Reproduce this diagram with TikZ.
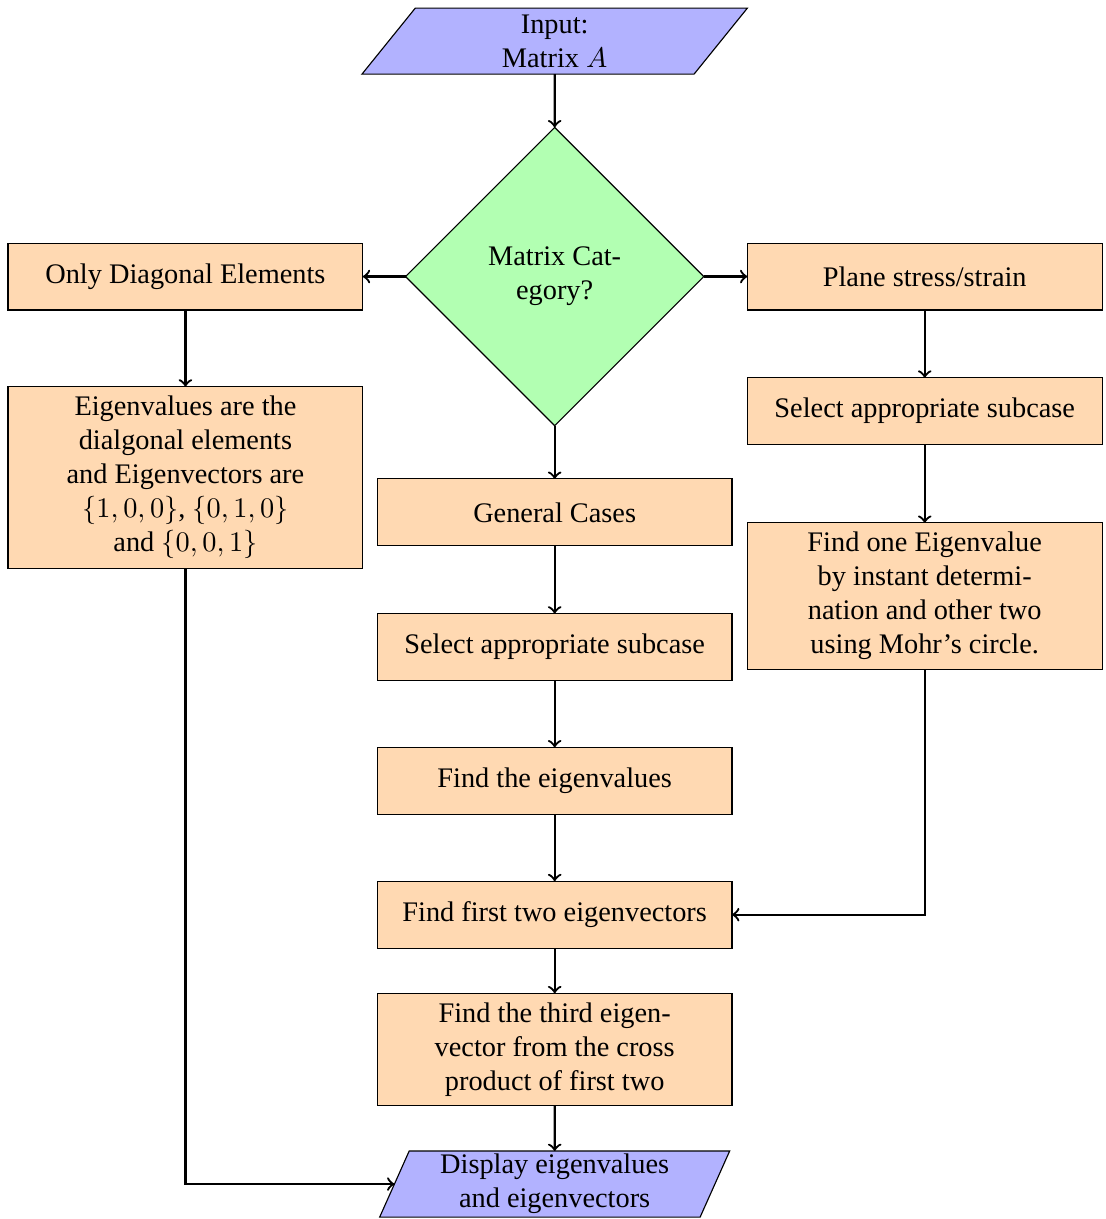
\documentclass[tikz,border=0pt]{standalone}
\usepackage[no-math]{fontspec}
\setmainfont{Liberation Serif}
\usetikzlibrary{shapes.geometric,positioning}

\begin{document}
\begin{tikzpicture}[->,thick,
      process/.style={rectangle,draw,thin,outer sep=0pt,fill=orange!30,minimum width=4.4cm,minimum height=0.83cm,align=center},
      io/.style={trapezium,trapezium left angle=70,trapezium right angle=110,trapezium stretches=true,draw,thin,outer sep=0pt,fill=blue!30,minimum height=0.82cm,align=center,inner sep=1pt},
      decision/.style={diamond,draw,thin,outer sep=0pt,fill=green!30,minimum width=3.7cm,minimum height=3.7cm,align=center}]
      \useasboundingbox (-6.88,0.51) rectangle (6.83,-14.61);
      \node[io,minimum width=4.79cm] (in) {Input:\\Matrix $A$};
      \node[decision] (cat) [below=0.66cm of in] {Matrix Cat-\\egory?};
      \node[process] (diag) [left=0.53cm of cat] {Only Diagonal Elements};
      \node[process] (plane) [right=0.54cm of cat] {Plane stress/strain};
      \node[process,minimum height=2.26cm] (eig) [below=0.95cm of diag] {Eigenvalues are the\\dialgonal elements\\and Eigenvectors are\\$\{1,0,0\}$, $\{0,1,0\}$\\and $\{0,0,1\}$};
      \node[process] (sub1) [below=0.84cm of plane] {Select appropriate subcase};
      \node[process,minimum height=1.82cm] (mohr) [below=0.97cm of sub1] {Find one Eigenvalue\\by instant determi-\\nation and other two\\using Mohr's circle.};
      \node[process] (gen) [below=0.66cm of cat] {General Cases};
      \node[process] (sub2) [below=0.84cm of gen] {Select appropriate subcase};
      \node[process] (eigval) [below=0.83cm of sub2] {Find the eigenvalues};
      \node[process] (two) [below=0.83cm of eigval] {Find first two eigenvectors};
      \node[process,minimum height=1.39cm] (third) [below=0.56cm of two] {Find the third eigen-\\vector from the cross\\product of first two};
      \node[io,minimum width=4.36cm] (out) [below=0.56cm of third] {Display eigenvalues\\and eigenvectors};

      \path[->]
        (in) edge (cat)
        (cat) edge (diag)
        (cat) edge (plane)
        (cat) edge (gen)
        (diag) edge (eig)
        (plane) edge (sub1)
        (sub1) edge (mohr)
        (gen) edge (sub2)
        (sub2) edge (eigval)
        (eigval) edge (two)
        (two) edge (third)
        (third) edge (out);
      \draw (eig) |- (out);
      \draw (mohr) |- (two);
    \end{tikzpicture}
\end{document}
